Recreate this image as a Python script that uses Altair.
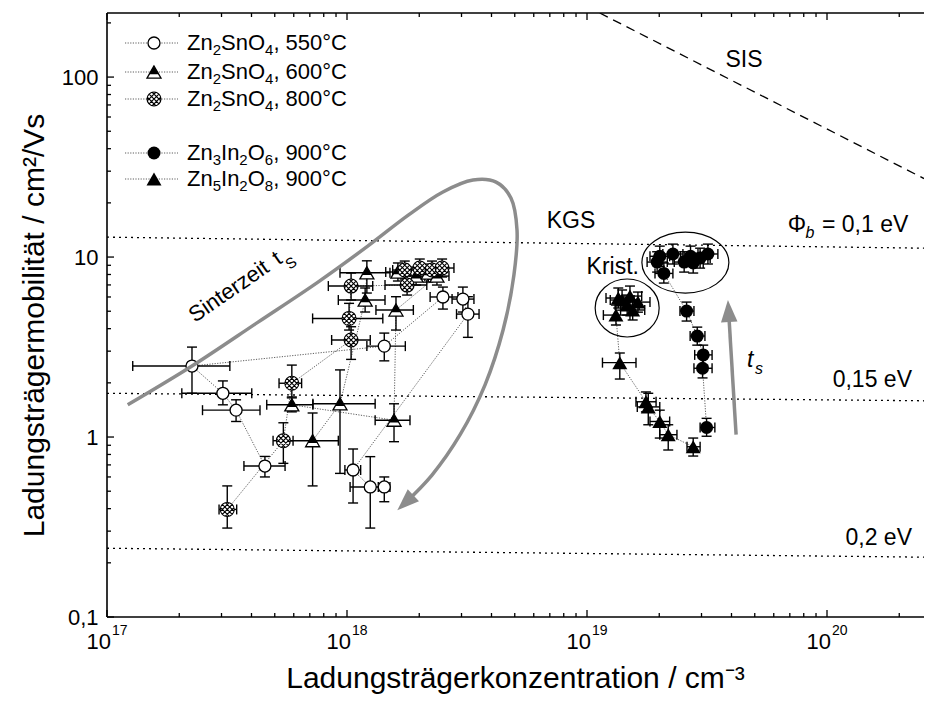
import altair as alt
import pandas as pd

# ---------------- frame ----------------
W, H = 817, 604
X_DOMAIN = [1e17, 2.536e20]
Y_DOMAIN = [0.1, 227.0]
FONT = "Liberation Sans"
GREY = "#8c8c8c"

x_major = [1e17, 1e18, 1e19, 1e20]
x_major_exp = ["17", "18", "19", "20"]
x_minor = [k * 10.0 ** e for e in (17, 18, 19, 20) for k in range(2, 10) if k * 10.0 ** e < X_DOMAIN[1]]
y_major = [0.1, 1, 10, 100]
y_minor = [k * 10.0 ** e for e in (-1, 0, 1, 2) for k in range(2, 10) if k * 10.0 ** e < Y_DOMAIN[1]]

# ---------------- data ----------------
# Zn2SnO4 550 °C (open circles)
s550_n = [4.55e17, 3.45e17, 3.04e17, 2.26e17, 1.43e18, 2.51e18, 3.04e18, 3.19e18, 1.06e18, 1.25e18, 1.43e18]
s550_mu = [0.69, 1.41, 1.75, 2.48, 3.20, 6.0, 5.84, 4.82, 0.656, 0.528, 0.528]
s550_nlo = [3.72e17, 2.50e17, 2.05e17, 1.28e17, 1.21e18, 2.22e18, 2.74e18, 2.86e18, 9.8e17, 1.03e18, 1.35e18]
s550_nhi = [5.52e17, 4.34e17, 4.01e17, 3.25e17, 1.75e18, 2.90e18, 3.38e18, 3.55e18, 1.14e18, 1.46e18, 1.51e18]
s550_mulo = [0.60, 1.22, 1.51, 1.75, 2.65, 5.14, 4.95, 3.58, 0.43, 0.312, 0.437]
s550_muhi = [0.78, 1.61, 2.05, 3.16, 3.78, 6.81, 6.81, 6.02, 0.858, 0.778, 0.60]

# Zn2SnO4 600 °C (half filled triangles)
s600_n = [7.19e17, 9.35e17, 1.19e18, 1.21e18, 1.63e18, 1.94e18, 2.18e18, 2.37e18, 1.60e18, 1.57e18, 5.89e17]
s600_mu = [0.954, 1.53, 5.77, 8.18, 8.26, 7.84, 8.15, 7.84, 5.08, 1.24, 1.51]
s600_nlo = [5.61e17, 7.21e17, 9.2e17, 9.35e17, 1.45e18, 1.73e18, 1.94e18, 2.11e18, 1.32e18, 1.31e18, 4.63e17]
s600_nhi = [9.2e17, 1.31e18, 1.44e18, 1.51e18, 1.83e18, 2.18e18, 2.45e18, 2.66e18, 1.89e18, 1.83e18, 7.21e17]
s600_mulo = [0.535, 0.628, 4.95, 6.31, 7.36, 6.99, 7.26, 6.99, 3.93, 0.942, 1.38]
s600_muhi = [1.36, 2.36, 6.73, 9.53, 9.27, 8.80, 9.14, 8.80, 6.02, 1.53, 1.65]

# Zn2SnO4 800 °C (crossed symbols)
s800_n = [3.17e17, 5.43e17, 5.89e17, 1.04e18, 1.02e18, 1.04e18, 1.78e18, 1.74e18, 2.01e18, 2.26e18, 2.49e18]
s800_mu = [0.396, 0.954, 1.99, 3.46, 4.56, 6.90, 6.99, 8.47, 8.69, 8.47, 8.69]
s800_nlo = [2.93e17, 4.92e17, 5.21e17, 8.63e17, 7.19e17, 8.36e17, 1.44e18, 1.55e18, 1.79e18, 2.01e18, 2.22e18]
s800_nhi = [3.47e17, 5.96e17, 6.47e17, 1.25e18, 1.41e18, 1.28e18, 2.15e18, 1.95e18, 2.26e18, 2.54e18, 2.79e18]
s800_mulo = [0.312, 0.714, 1.67, 2.70, 3.93, 5.77, 6.15, 7.55, 7.75, 7.55, 7.75]
s800_muhi = [0.535, 1.20, 2.51, 4.10, 5.53, 8.15, 7.94, 9.50, 9.75, 9.50, 9.75]

# Zn3In2O6 900 °C (filled circles)
z36_n = [3.15e19, 3.03e19, 3.05e19, 2.88e19, 2.60e19, 2.09e19, 1.96e19, 2.01e19, 2.28e19, 2.54e19, 2.70e19, 2.77e19, 2.96e19, 3.19e19]
z36_mu = [1.13, 2.41, 2.86, 3.64, 5.01, 8.11, 9.38, 10.1, 10.4, 9.38, 10.1, 9.27, 9.87, 10.4]
z36_nlo = [2.96e19, 2.79e19, 2.81e19, 2.69e19, 2.44e19, 1.92e19, 1.78e19, 1.83e19, 2.07e19, 2.31e19, 2.45e19, 2.52e19, 2.69e19, 2.90e19]
z36_nhi = [3.41e19, 3.32e19, 3.32e19, 3.10e19, 2.79e19, 2.28e19, 2.16e19, 2.21e19, 2.51e19, 2.79e19, 2.97e19, 3.05e19, 3.26e19, 3.51e19]
z36_mulo = [1.01, 2.13, 2.51, 3.24, 4.41, 7.17, 8.25, 8.88, 9.15, 8.25, 8.88, 8.15, 8.68, 9.15]
z36_muhi = [1.27, 2.75, 3.24, 4.08, 5.62, 9.27, 10.7, 11.5, 11.8, 10.7, 11.5, 10.5, 11.2, 11.8]

# Zn5In2O8 900 °C (filled triangles)
z58_n = [2.77e19, 2.18e19, 2.01e19, 1.80e19, 1.76e19, 1.37e19, 1.32e19, 1.35e19, 1.40e19, 1.47e19, 1.51e19, 1.55e19, 1.63e19]
z58_mu = [0.883, 1.03, 1.22, 1.47, 1.57, 2.59, 4.76, 5.92, 5.77, 5.41, 6.07, 5.08, 5.62]
z58_nlo = [2.61e19, 2.01e19, 1.83e19, 1.62e19, 1.60e19, 1.16e19, 1.17e19, 1.20e19, 1.25e19, 1.31e19, 1.35e19, 1.38e19, 1.45e19]
z58_nhi = [2.96e19, 2.37e19, 2.21e19, 2.01e19, 1.94e19, 1.60e19, 1.51e19, 1.51e19, 1.57e19, 1.65e19, 1.69e19, 1.74e19, 1.83e19]
z58_mulo = [0.784, 0.847, 0.987, 1.17, 1.38, 2.10, 4.19, 5.21, 5.07, 4.76, 5.34, 4.47, 4.94]
z58_muhi = [0.987, 1.17, 1.41, 1.75, 1.78, 2.93, 5.41, 6.73, 6.56, 6.15, 6.90, 5.78, 6.39]

# reference curves (grain-boundary barriers, SIS)
ref_n = [1e17, 2.536e20]
kgs_mu = [12.9, 11.2]
b015_mu = [1.75, 1.59]
b02_mu = [0.241, 0.215]
sis_n = [1.13e19, 2.536e20]
sis_mu = [227.0, 27.3]

# annotation geometry (data coordinates)
arc_n = [1.22e17, 2.26e17, 4.26e17, 7.57e17, 1.22e18, 1.80e18, 2.51e18, 3.35e18, 4.18e18, 4.82e18,
         5.11e18, 4.96e18, 4.47e18, 3.76e18, 2.96e18, 2.26e18, 1.75e18]
arc_mu = [1.51, 2.48, 4.35, 7.26, 11.5, 17.1, 23.0, 26.8, 26.1, 21.3, 14.1, 7.94, 3.93, 1.95, 1.03, 0.615, 0.431]
ts_n = [4.18e19, 3.89e19]
ts_mu = [1.03, 5.01]
head_n = [1.75e18, 3.89e19]
head_mu = [0.431, 5.01]
head_angle = [227, 356.6]
ell_small = (1.47e19, 5.21)
ell_big = (2.57e19, 9.32)

legend_labels = ["Zn_2SnO_4, 550°C", "Zn_2SnO_4, 600°C", "Zn_2SnO_4, 800°C", "Zn_3In_2O_6, 900°C", "Zn_5In_2O_8, 900°C"]
legend_kinds = ["open_circle", "half_tri", "crossed", "filled_circle", "filled_tri"]
legend_rows = [30, 59, 86, 140, 166]

# ---------------- helpers ----------------
xs = alt.Scale(type="log", domain=X_DOMAIN)
ys = alt.Scale(type="log", domain=Y_DOMAIN)

AX_X = alt.Axis(title="Ladungsträgerkonzentration / cm⁻³", labels=False, ticks=False, domain=False, grid=False,
                titleFont=FONT, titleFontSize=30, titleFontWeight="normal", titleColor="black",
                titleY=70, titleX=408, titleBaseline="alphabetic", titleAlign="center")
AX_Y = alt.Axis(title="Ladungsträgermobilität / cm²/Vs", values=y_major,
                labelExpr="datum.value < 0.5 ? '0,1' : format(datum.value, 'd')",
                ticks=False, domain=False, grid=False, labelFont=FONT, labelFontSize=22, labelColor="black",
                labelPadding=9, labelFlush=False, labelOverlap=False, titleFont=FONT, titleFontSize=30,
                titleFontWeight="normal", titleColor="black", titleX=-73, titleY=312, titleAngle=270,
                titleBaseline="middle", titleAlign="center")


def X(f):
    return alt.X(f"{f}:Q", scale=xs, axis=AX_X)


def Y(f):
    return alt.Y(f"{f}:Q", scale=ys, axis=AX_Y)


TOP_PATH = "M 0 -0.866 L 0.69 0.33 L -0.69 0.33 Z"
CROSS_PATH = ("M 1 0 A 1 1 0 1 1 -1 0 A 1 1 0 1 1 1 0 Z "
              "M -0.707 -0.707 L 0.707 0.707 M -0.707 0.707 L 0.707 -0.707 "
              "M -0.9645 -0.2645 L 0.2645 0.9645 M -0.2645 -0.9645 L 0.9645 0.2645 "
              "M -0.9645 0.2645 L 0.2645 -0.9645 M -0.2645 0.9645 L 0.9645 -0.2645")
HEAD_PATH = "M 0 -1 L 0.75 1 L -0.75 1 Z"


def symbol_marks(base, kind, x, y):
    if kind == "open_circle":
        return [base.mark_point(shape="circle", size=144, filled=True, fill="white", stroke="black",
                                strokeWidth=1.3, opacity=1).encode(x=x, y=y)]
    if kind == "half_tri":
        return [base.mark_point(shape="triangle-up", size=196, filled=True, fill="white", stroke="black",
                                strokeWidth=1.3, opacity=1).encode(x=x, y=y),
                base.mark_point(shape=TOP_PATH, size=196, filled=True, fill="black", opacity=1).encode(x=x, y=y)]
    if kind == "crossed":
        return [base.mark_point(shape=CROSS_PATH, size=196, filled=True, fill="white", stroke="black",
                                strokeWidth=1.1, opacity=1).encode(x=x, y=y)]
    if kind == "filled_circle":
        return [base.mark_point(shape="circle", size=169, filled=True, fill="black", opacity=1).encode(x=x, y=y)]
    return [base.mark_point(shape="triangle-up", size=225, filled=True, fill="black", opacity=1).encode(x=x, y=y)]


def series_df(n, mu, nlo, nhi, mulo, muhi):
    return pd.DataFrame({"i": list(range(len(n))), "n": n, "mu": mu, "nlo": nlo, "nhi": nhi,
                         "mulo": mulo, "muhi": muhi})


series = [
    (series_df(s550_n, s550_mu, s550_nlo, s550_nhi, s550_mulo, s550_muhi), "open_circle"),
    (series_df(s600_n, s600_mu, s600_nlo, s600_nhi, s600_mulo, s600_muhi), "half_tri"),
    (series_df(s800_n, s800_mu, s800_nlo, s800_nhi, s800_mulo, s800_muhi), "crossed"),
    (series_df(z36_n, z36_mu, z36_nlo, z36_nhi, z36_mulo, z36_muhi), "filled_circle"),
    (series_df(z58_n, z58_mu, z58_nlo, z58_nhi, z58_mulo, z58_muhi), "filled_tri"),
]

layers = []

# reference lines
for mus in (kgs_mu, b015_mu, b02_mu):
    layers.append(alt.Chart(pd.DataFrame({"n": ref_n, "mu": mus})).mark_line(
        color="black", strokeWidth=1.3, strokeDash=[2, 4]).encode(x=X("n"), y=Y("mu")))
layers.append(alt.Chart(pd.DataFrame({"n": sis_n, "mu": sis_mu})).mark_line(
    color="black", strokeWidth=1.3, strokeDash=[9, 6], clip=True).encode(x=X("n"), y=Y("mu")))

# frame (left, top, bottom; the right side lies outside the picture)
one = pd.DataFrame({"a": [0]})
layers.append(alt.Chart(one).mark_rule(color="black", strokeWidth=1.6).encode(
    x=alt.value(0), y=alt.value(0), y2=alt.value(H)))
layers.append(alt.Chart(one).mark_rule(color="black", strokeWidth=1.6).encode(
    x=alt.value(0), x2=alt.value(W), y=alt.value(0)))
layers.append(alt.Chart(one).mark_rule(color="black", strokeWidth=1.6).encode(
    x=alt.value(0), x2=alt.value(W), y=alt.value(H)))

# manual inward ticks
for vals, length in ((x_major, 7), (x_minor, 4)):
    d = pd.DataFrame({"v": vals})
    layers.append(alt.Chart(d).mark_rule(color="black", strokeWidth=1.3).encode(
        x=X("v"), y=alt.value(H), y2=alt.value(H - length)))
    layers.append(alt.Chart(d).mark_rule(color="black", strokeWidth=1.3).encode(
        x=X("v"), y=alt.value(0), y2=alt.value(length)))
for vals, length in ((y_major, 7), (y_minor, 4)):
    d = pd.DataFrame({"v": vals})
    layers.append(alt.Chart(d).mark_rule(color="black", strokeWidth=1.3).encode(
        y=Y("v"), x=alt.value(0), x2=alt.value(length)))

# x tick labels 10^n
xl = pd.DataFrame({"v": x_major, "base": ["10"] * len(x_major), "exp": x_major_exp})
layers.append(alt.Chart(xl).mark_text(font=FONT, fontSize=22, align="right", baseline="middle", dx=4,
                                      color="black").encode(x=X("v"), y=alt.value(H + 25), text="base:N"))
layers.append(alt.Chart(xl).mark_text(font=FONT, fontSize=14, align="left", baseline="middle", dx=5,
                                      color="black").encode(x=X("v"), y=alt.value(H + 14), text="exp:N"))

# connecting lines
for df, kind in series:
    layers.append(alt.Chart(df).mark_line(color="#333333", strokeWidth=0.8, strokeDash=[1.2, 1.4]).encode(
        x=X("n"), y=Y("mu"), order="i:Q"))

# error bars
for df, kind in series:
    b = alt.Chart(df)
    layers.append(b.mark_rule(color="black", strokeWidth=1.4).encode(x=X("nlo"), x2="nhi:Q", y=Y("mu")))
    layers.append(b.mark_rule(color="black", strokeWidth=1.4).encode(y=Y("mulo"), y2="muhi:Q", x=X("n")))
    for f in ("nlo", "nhi"):
        layers.append(b.mark_tick(orient="vertical", size=10, thickness=1.4, color="black", opacity=1).encode(
            x=X(f), y=Y("mu")))
    for f in ("mulo", "muhi"):
        layers.append(b.mark_tick(orient="horizontal", size=10, thickness=1.4, color="black", opacity=1).encode(
            x=X("n"), y=Y(f)))

# symbols
for df, kind in series:
    layers += symbol_marks(alt.Chart(df), kind, X("n"), Y("mu"))

# ellipses around the crystallised points
for (en, emu), ratio, size in ((ell_small, 0.906, 4096), (ell_big, 0.701, 7569)):
    path = f"M -1 0 A 1 {ratio} 0 1 1 1 0 A 1 {ratio} 0 1 1 -1 0 Z"
    layers.append(alt.Chart(pd.DataFrame({"n": [en], "mu": [emu]})).mark_point(
        shape=path, size=size, filled=False, color="black", strokeWidth=1.2, opacity=1).encode(
        x=X("n"), y=Y("mu")))

# grey arrows
arc_df = pd.DataFrame({"i": list(range(len(arc_n))), "n": arc_n, "mu": arc_mu})
layers.append(alt.Chart(arc_df).mark_line(color=GREY, strokeWidth=3.5, interpolate="catmull-rom").encode(
    x=X("n"), y=Y("mu"), order="i:Q"))
layers.append(alt.Chart(pd.DataFrame({"i": [0, 1], "n": ts_n, "mu": ts_mu})).mark_line(
    color=GREY, strokeWidth=3.5).encode(x=X("n"), y=Y("mu"), order="i:Q"))
layers.append(alt.Chart(pd.DataFrame({"n": head_n, "mu": head_mu, "a": head_angle})).mark_point(
    shape=HEAD_PATH, size=484, filled=True, fill=GREY, opacity=1).encode(
    x=X("n"), y=Y("mu"), angle=alt.Angle("a:Q", scale=None)))

# text annotations
annotations = [
    ("SIS", 4.51e19, 124, 23, "center", "normal", 0),
    ("KGS", 8.58e18, 15.8, 23, "center", "normal", 0),
    ("Φ", 7.50e19, 15.1, 23, "center", "normal", 0),
    ("b", 8.49e19, 13.6, 16, "center", "italic", 0),
    ("= 0,1 eV", 9.53e19, 15.1, 23, "left", "normal", 0),
    ("0,15 eV", 2.26e20, 2.07, 23, "right", "normal", 0),
    ("0,2 eV", 2.26e20, 0.275, 23, "right", "normal", 0),
    ("Krist.", 1.28e19, 8.80, 23, "center", "normal", 0),
    ("t", 4.78e19, 2.68, 23, "center", "italic", 0),
    ("s", 5.21e19, 2.39, 16, "center", "italic", 0),
    ("Sinterzeit", 3.22e17, 6.47, 22, "center", "normal", 325.4),
    ("t", 5.11e17, 9.87, 22, "center", "normal", 325.4),
    ("S", 5.84e17, 9.27, 15, "center", "normal", 325.4),
]
for txt, tn, tmu, fs, al, st, ang in annotations:
    layers.append(alt.Chart(pd.DataFrame({"n": [tn], "mu": [tmu], "t": [txt]})).mark_text(
        font=FONT, fontSize=fs, align=al, baseline="middle", fontStyle=st, angle=ang, color="black").encode(
        x=X("n"), y=Y("mu"), text="t:N"))

# legend (labels with real subscripts, laid out with Arial-metric advance widths)
ADV = {"Z": 0.611, "n": 0.556, "S": 0.667, "O": 0.778, "I": 0.278, ",": 0.278, " ": 0.278, "°": 0.4, "C": 0.722}
MAIN_FS, SUB_FS = 22, 15


def split_label(label):
    segs, cur, i = [], "", 0
    while i < len(label):
        if label[i] == "_":
            if cur:
                segs.append((cur, False))
                cur = ""
            segs.append((label[i + 1], True))
            i += 2
        else:
            cur += label[i]
            i += 1
    if cur:
        segs.append((cur, False))
    return segs


for label, kind, ry in zip(legend_labels, legend_kinds, legend_rows):
    layers.append(alt.Chart(one).mark_rule(color="#333333", strokeWidth=0.8, strokeDash=[1.2, 1.4]).encode(
        x=alt.value(18), x2=alt.value(71), y=alt.value(ry)))
    layers += symbol_marks(alt.Chart(one), kind, alt.value(47), alt.value(ry))
    xpos = 80.0
    for seg, sub in split_label(label):
        fs = SUB_FS if sub else MAIN_FS
        layers.append(alt.Chart(pd.DataFrame({"t": [seg]})).mark_text(
            font=FONT, fontSize=fs, align="left", baseline="middle", color="black", dy=7 if sub else 0).encode(
            x=alt.value(xpos), y=alt.value(ry), text="t:N"))
        xpos += sum(ADV.get(c, 0.556) for c in seg) * fs

chart = alt.layer(*layers).properties(
    width=W, height=H,
    padding={"left": 99, "top": 5, "right": 0, "bottom": 81},
    autosize=alt.AutoSizeParams(type="none"),
    background="white",
).configure_view(stroke=None)

chart.save("out.html", embed_options={"renderer": "svg", "actions": False})
